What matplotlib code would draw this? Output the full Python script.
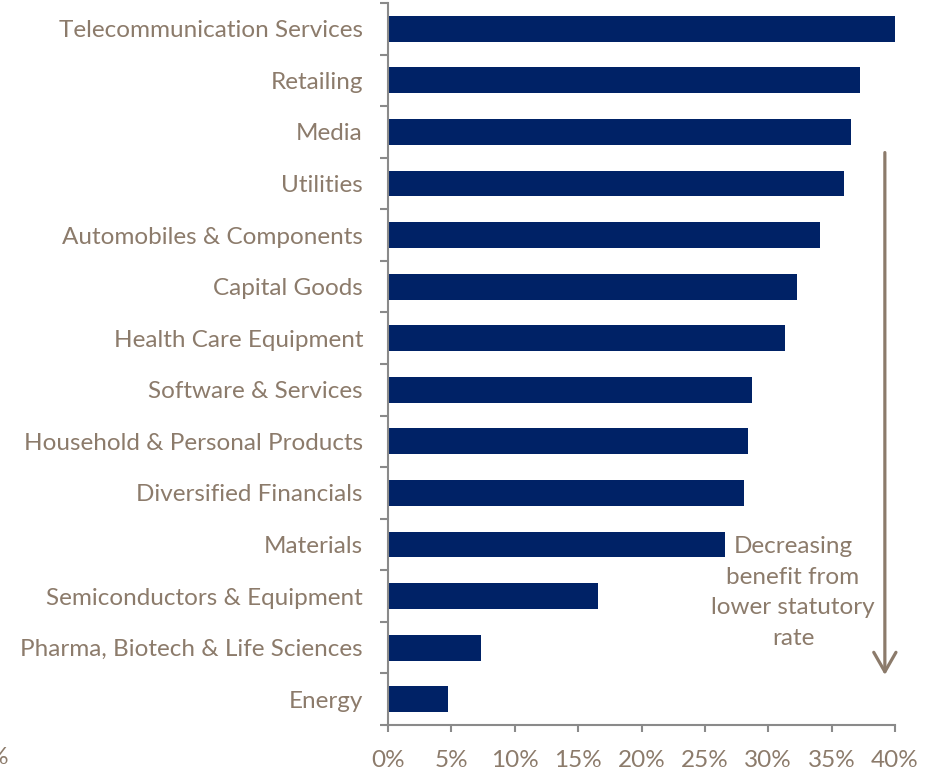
import matplotlib.pyplot as plt

plt.rcParams['font.family'] = ['Lato', 'DejaVu Sans']

sectors = [
    "Telecommunication Services", "Retailing", "Media", "Utilities",
    "Automobiles & Components", "Capital Goods", "Health Care Equipment",
    "Software & Services", "Household & Personal Products",
    "Diversified Financials", "Materials", "Semiconductors & Equipment",
    "Pharma, Biotech & Life Sciences", "Energy",
]
rates = [40.1, 37.2, 36.5, 36.0, 34.1, 32.3, 31.3, 28.7, 28.4, 28.1, 26.6, 16.6, 7.3, 4.7]
xticks = [0, 5, 10, 15, 20, 25, 30, 35, 40]

navy = "#002266"
brown = "#8C7B6B"
grey = "#8A8A8A"
fs = 17.5

fig = plt.figure(figsize=(9.35, 7.73), dpi=100)
ax = fig.add_axes([388 / 935, 1 - 725 / 773, 507 / 935, 722 / 773])

pos = list(range(len(sectors)))
ax.barh(pos, rates, height=0.5, color=navy)
ax.set_ylim(len(sectors) - 0.5, -0.5)
ax.set_xlim(0, 40)

# category ticks sit between the bars
ax.set_yticks([p + 0.5 for p in range(-1, len(sectors))])
ax.set_yticklabels([])
ax.set_yticks(pos, minor=True)
ax.set_yticklabels(sectors, minor=True, fontsize=fs, color=brown)
ax.tick_params(axis='y', which='minor', length=0, pad=18)
ax.tick_params(axis='y', which='major', length=5.5, width=1.5, color=grey)

ax.set_xticks(xticks)
ax.set_xticklabels([f"{t}%" for t in xticks], fontsize=fs, color=brown)
ax.tick_params(axis='x', length=5, width=1.5, color=grey, pad=13)

for s in ("top", "right"):
    ax.spines[s].set_visible(False)
for s in ("left", "bottom"):
    ax.spines[s].set_color(grey)
    ax.spines[s].set_linewidth(1.5)

ax.annotate("", xy=(39.2, 12.53), xytext=(39.2, 2.4),
            arrowprops=dict(arrowstyle="->,head_length=1.4,head_width=0.8",
                            color=brown, lw=2.3, shrinkA=0, shrinkB=0,
                            mutation_scale=10),
            annotation_clip=False)
ax.text(31.95, 10.93, "Decreasing\nbenefit from\nlower statutory\nrate",
        ha="center", va="center", fontsize=fs, color=brown, linespacing=1.58)

fig.text(9 / 935, 1 - 757 / 773, "0%", ha="right", va="center", fontsize=fs, color=brown)

fig.savefig("out.png", dpi=100)
